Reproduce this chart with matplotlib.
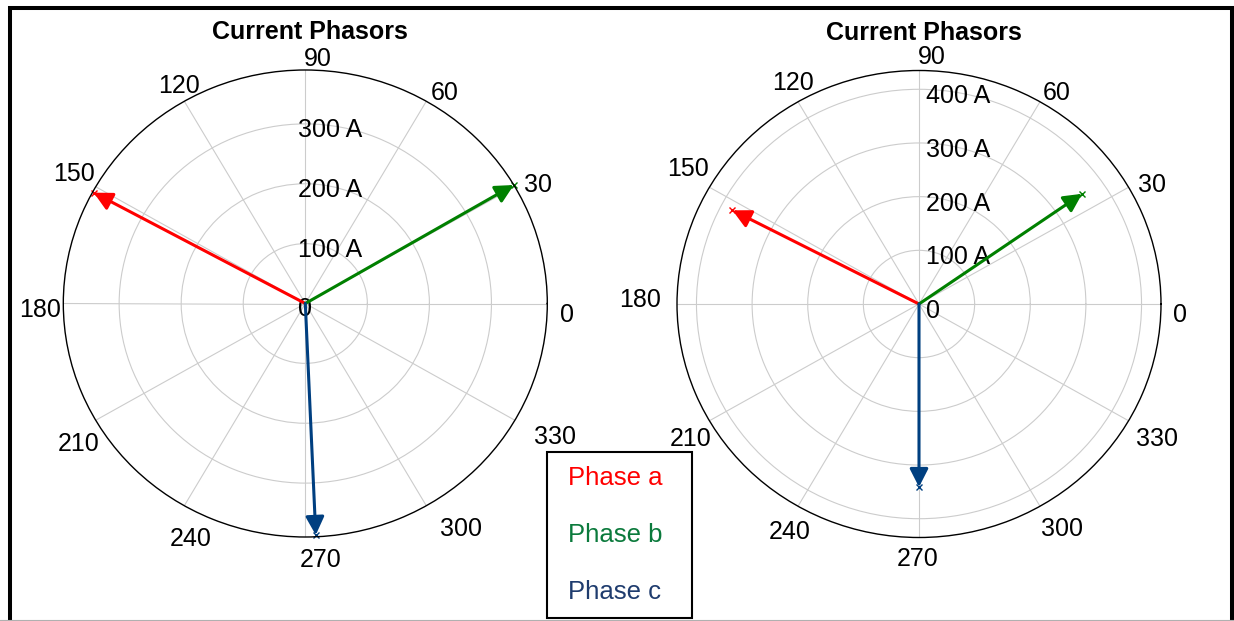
import numpy as np
import matplotlib
matplotlib.use("Agg")
import matplotlib.pyplot as plt
from matplotlib.patches import Rectangle
from matplotlib.lines import Line2D
from matplotlib.transforms import ScaledTranslation

plt.rcParams["font.family"] = ["Liberation Sans", "DejaVu Sans"]

PHASES = ["Phase a", "Phase b", "Phase c"]
ARROW_COLORS = ["#ff0000", "#008000", "#003f80"]
TEXT_COLORS = ["#ff0000", "#0b7a3c", "#1f3c6e"]

# left plot: magnitude (A) and angle (deg) per phase
left_mag = [388, 390, 387]
left_ang = [151.5, 30.5, 272.5]
left_rmax = 390
left_rticks = [0, 100, 200, 300]

# right plot
right_mag = [378, 358, 341]
right_ang = [152.5, 35.0, 270.0]
right_rmax = 435
right_rticks = [0, 100, 200, 300, 400]

theta_ticks = list(range(0, 360, 30))

# where each angle label sits relative to the rim point, pixels (right, down)
LEFT_LABEL_OFFSET = [(20, 9), (23, -4), (18, -10), (13, -13), (-5, -17), (-22, -15),
                     (-23, 5), (-17, 22), (6, 31), (15, 21), (35, 21), (40, 15)]
RIGHT_LABEL_OFFSET = [(19, 9), (23, -4), (17, -11), (13, -15), (-5, -21), (-21, -20),
                      (-37, -6), (-19, 16), (-8, 24), (-1, 19), (22, 21), (28, 16)]

W, H = 1234, 621
fig = plt.figure(figsize=(W / 100, H / 100), dpi=100)


def px(dx, dy):
    return ScaledTranslation(dx / 100, -dy / 100, fig.dpi_scale_trans)


def phasor_axes(x0, y0, rx, ry):
    # x0, y0 = centre in pixels from top-left, rx/ry = radii in pixels
    rect = [(x0 - rx) / W, (H - y0 - ry) / H, 2 * rx / W, 2 * ry / H]
    return fig.add_axes(rect, projection="polar")


def draw_phasors(ax, mags, angs, rmax, rticks, rlabel_shift, label_offset):
    ax.set_aspect("auto")
    ax.set_ylim(0, rmax)
    ax.set_thetagrids(theta_ticks, labels=[])
    for t, (dx, dy) in zip(theta_ticks, label_offset):
        ax.annotate(str(t), xy=(np.deg2rad(t), rmax), xytext=(dx, -dy - 2),
                    textcoords="offset pixels", ha="center", va="center",
                    fontsize=18, annotation_clip=False)

    rlabels = ["0"] + [f"{r} A" for r in rticks[1:]]
    _, labels = ax.set_rgrids(rticks, labels=rlabels, angle=90, fontsize=18)
    for lab in labels:
        lab.set_ha("left")
        lab.set_va("center")
        lab.set_transform(lab.get_transform() + px(*rlabel_shift))

    ax.grid(color="#cccccc", lw=0.8)
    ax.spines["polar"].set_color("black")
    ax.spines["polar"].set_linewidth(1.0)
    ax.set_title("Current Phasors", fontsize=18, fontweight="bold",
                 x=0.51, y=1.0, pad=22)

    for m, a, c in zip(mags, angs, ARROW_COLORS):
        th = np.deg2rad(a)
        ax.plot([th], [m], marker="x", ms=5, mew=1, color=c, clip_on=False)
        ax.annotate("", xy=(th, m), xytext=(0, 0), annotation_clip=False,
                    arrowprops=dict(arrowstyle="-|>,head_length=0.55,head_width=0.28",
                                    color=c, lw=2.2, shrinkA=0, shrinkB=0,
                                    mutation_scale=20))


ax_l = phasor_axes(305.3, 303.5, 242, 233.5)
draw_phasors(ax_l, left_mag, left_ang, left_rmax, left_rticks, (-7, 6),
             LEFT_LABEL_OFFSET)

ax_r = phasor_axes(919, 304, 242, 233.5)
draw_phasors(ax_r, right_mag, right_ang, right_rmax, right_rticks, (7, 7),
             RIGHT_LABEL_OFFSET)

handles = [Line2D([], [], color=c) for c in ARROW_COLORS]
leg = fig.legend(handles, PHASES, loc="upper left",
                 bbox_to_anchor=(547 / W, (H - 616) / H, 145 / W, 164 / H),
                 mode="expand", borderaxespad=0, fontsize=18.5,
                 handlelength=0.25, handletextpad=0, labelspacing=1.28,
                 borderpad=0.55, labelcolor=TEXT_COLORS,
                 frameon=True, fancybox=False, framealpha=1, edgecolor="black")
leg.get_frame().set_linewidth(1.5)
for h in leg.legend_handles:
    h.set_visible(False)

# outer frame
fig.add_artist(Rectangle((10 / W, -0.05), (1232 - 10) / W, (H - 8) / H + 0.05,
                         transform=fig.transFigure, fill=False, ec="black",
                         lw=2.9, clip_on=False))
fig.add_artist(Line2D([0, 1], [1.5 / H, 1.5 / H], transform=fig.transFigure,
                      color="#b0b0b0", lw=0.8))

fig.savefig("out.png", dpi=100)
